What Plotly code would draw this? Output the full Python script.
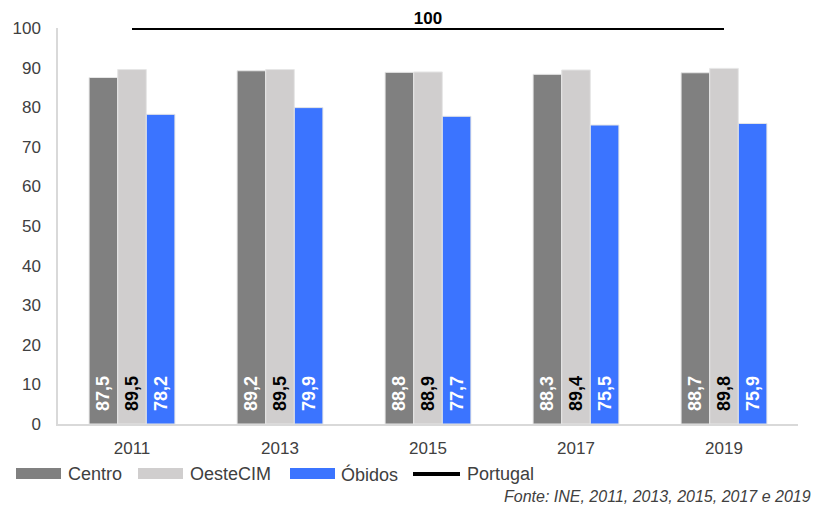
import plotly.graph_objects as go

years = ["2011", "2013", "2015", "2017", "2019"]
centro = [87.5, 89.2, 88.8, 88.3, 88.7]
oeste = [89.5, 89.5, 88.9, 89.4, 89.8]
obidos = [78.2, 79.9, 77.7, 75.5, 75.9]
portugal = [100, 100, 100, 100, 100]
portugal_labels = ["", "", "100", "", ""]
series_names = ["Centro", "OesteCIM", "Óbidos", "Portugal"]
y_ticks = [0, 10, 20, 30, 40, 50, 60, 70, 80, 90, 100]

FONT = "Liberation Sans, Arial, sans-serif"
C_CENTRO = "#808080"
C_OESTE = "#d0cece"
C_OBIDOS = "#3b74ff"

def fmt(v):
    return "\u00a0\u00a0" + f"{v:.1f}".replace(".", ",")

fig = go.Figure()
for name, vals, col, tcol in [
    (series_names[0], centro, C_CENTRO, "white"),
    (series_names[1], oeste, C_OESTE, "black"),
    (series_names[2], obidos, C_OBIDOS, "white"),
]:
    fig.add_trace(go.Bar(
        x=years, y=vals, name=name, marker=dict(color=col, line=dict(color="#e6e6e6", width=1)),
        text=[fmt(v) for v in vals], textposition="inside", insidetextanchor="start",
        textangle=-90, textfont=dict(family=FONT, size=18, color=tcol, weight="bold"),
        constraintext="none", showlegend=False, cliponaxis=False,
    ))

fig.add_trace(go.Scatter(
    x=years, y=portugal, name=series_names[3], mode="lines+text",
    line=dict(color="black", width=4), text=portugal_labels, textposition="top center",
    textfont=dict(family=FONT, size=17, color="black", weight="bold"),
    showlegend=False, cliponaxis=False,
))

# page body adds an 8px offset; figure is sized to fill the window after it
OFF = 8
W, H = 824 - OFF, 506 - OFF
L, R, T, B = 58 - OFF, 26, 28 - OFF, 82
pw, ph = W - L - R, H - T - B

def px(x):
    return (x - OFF - L) / pw

def py(y):
    return (H - B - (y - OFF)) / ph

shapes = []
annotations = []
legend_items = [
    (series_names[0], C_CENTRO, 16, 61, 66, "rect"),
    (series_names[1], C_OESTE, 138, 183, 188, "rect"),
    (series_names[2], C_OBIDOS, 290, 335, 339, "rect"),
    (series_names[3], "black", 413, 460, 465, "line"),
]
for name, col, x0, x1, tx, kind in legend_items:
    if kind == "rect":
        shapes.append(dict(type="rect", xref="paper", yref="paper",
                           x0=px(x0), x1=px(x1), y0=py(479), y1=py(468),
                           fillcolor=col, line=dict(width=0)))
    else:
        shapes.append(dict(type="line", xref="paper", yref="paper",
                           x0=px(x0), x1=px(x1), y0=py(474), y1=py(474),
                           line=dict(color=col, width=4)))
    annotations.append(dict(text=name, xref="paper", yref="paper", x=px(tx), y=py(474),
                            xanchor="left", yanchor="middle", showarrow=False,
                            font=dict(family=FONT, size=18, color="#404040")))

annotations.append(dict(text="<i>Fonte: INE, 2011, 2013, 2015, 2017 e 2019</i>",
                        xref="paper", yref="paper", x=px(502), y=py(497),
                        xanchor="left", yanchor="middle", showarrow=False,
                        font=dict(family=FONT, size=16, color="#404040")))

fig.update_layout(
    width=W, height=H, margin=dict(l=L, r=R, t=T, b=B, autoexpand=False),
    paper_bgcolor="white", plot_bgcolor="white",
    barmode="group", bargap=0.42, bargroupgap=0,
    font=dict(family=FONT, size=16, color="#404040"),
    xaxis=dict(type="category", showline=True, linecolor="#d9d9d9", linewidth=1.5,
               ticks="", tickfont=dict(size=17, color="#404040"), showgrid=False,
               ticklabelstandoff=8, automargin=False),
    yaxis=dict(range=[0, 100], tickvals=y_ticks, showline=True, linecolor="#d9d9d9",
               linewidth=1.5, showgrid=False, zeroline=False, ticks="",
               tickfont=dict(size=17, color="#404040"), ticklabelstandoff=12,
               automargin=False),
    shapes=shapes, annotations=annotations,
)

fig.write_html("out.html")
